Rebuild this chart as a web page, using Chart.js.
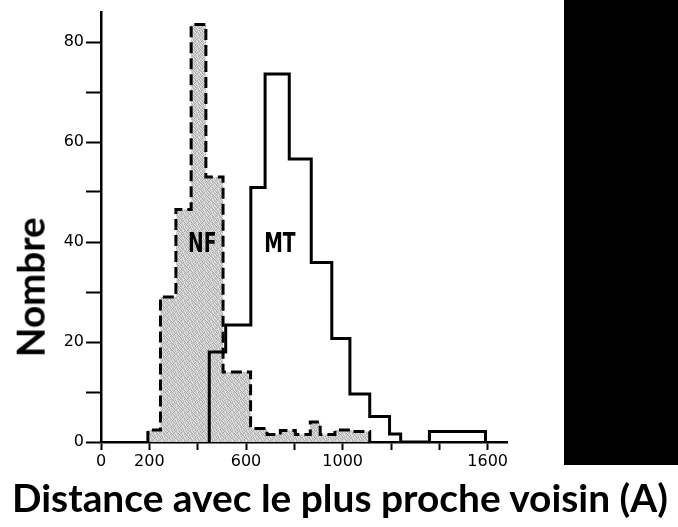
<!DOCTYPE html>
<html><head><meta charset="utf-8">
<script src="https://cdn.jsdelivr.net/npm/chart.js@4"></script>
<style>
html,body{margin:0;padding:0;background:#fff;}
#wrap{position:relative;width:678px;height:527px;overflow:hidden;background:#fff;}
#c{position:absolute;left:0;top:0;}
#blk{position:absolute;left:564px;top:0;width:114px;height:465px;background:#000;}
.lbl{position:absolute;font-family:Lato,'Open Sans',sans-serif;font-weight:700;white-space:nowrap;line-height:1;color:#000;}
</style></head><body>
<div id="wrap">
<canvas id="c" width="678" height="527"></canvas>
<div id="blk"></div>
<div id="xl" class="lbl">Distance avec le plus proche voisin (A)</div>
<div id="yl" class="lbl">Nombre</div>
</div>
<script>
// ---- data ----
const nfEdges  = [194, 246, 310, 373, 434, 505, 619, 687, 742, 804, 866, 907, 968, 1037, 1112];
const nfCounts = [2.4, 29, 46.5, 83.5, 53, 14, 2.7, 1.5, 2.3, 1.5, 4, 1.5, 2.4, 2.1];
const mtEdges  = [448, 516, 620, 679, 779, 870, 955, 1030, 1112, 1194, 1240, 1359, 1591];
const mtCounts = [18, 23.4, 50.9, 73.6, 56.6, 35.9, 20.7, 9.6, 5.1, 1.6, 0, 2.1];
const xTickValues = [0, 200, 400, 600, 800, 1000, 1200, 1400, 1600];
const xTickLabels = [0, 200, 600, 1000, 1600];
const yTickValues = [0, 10, 20, 30, 40, 50, 60, 70, 80];
const yTickLabels = [0, 20, 40, 60, 80];
const seriesNames = ['NF', 'MT'];
const nameAnchors = [[419, 39.4], [740, 39.4]];

function histPoints(edges, counts) {
  const pts = [{x: edges[0], y: 0}];
  for (let i = 0; i < counts.length; i++) {
    pts.push({x: edges[i], y: counts[i]});
    pts.push({x: edges[i + 1], y: counts[i]});
  }
  pts.push({x: edges[edges.length - 1], y: 0});
  return pts;
}

const canvas = document.getElementById('c');
const ctx = canvas.getContext('2d');
const pat = (function () {
  const c = document.createElement('canvas'); c.width = 7; c.height = 7;
  const g = c.getContext('2d');
  const m = ['0210120', '1020012', '2001201', '0120021', '1002102', '2012001', '0201210'];
  const col = {'0': '#cacaca', '1': '#acacac', '2': '#e4e4e4'};
  for (let r = 0; r < 7; r++) for (let k = 0; k < 7; k++) { g.fillStyle = col[m[r][k]]; g.fillRect(k, r, 1, 1); }
  return ctx.createPattern(c, 'repeat');
})();

const namePlugin = {
  id: 'names',
  afterDatasetsDraw(chart) {
    const {ctx, scales: {x, y}} = chart;
    ctx.save();
    ctx.fillStyle = '#000';
    ctx.font = 'bold 26px "DejaVu Sans"';
    ctx.textAlign = 'center'; ctx.textBaseline = 'middle';
    seriesNames.forEach((n, i) => {
      const px = x.getPixelForValue(nameAnchors[i][0]);
      const py = y.getPixelForValue(nameAnchors[i][1]);
      ctx.save(); ctx.translate(px, py); ctx.scale(0.72, 1); ctx.fillText(n, 0, 0); ctx.restore();
    });
    ctx.restore();
  }
};

const tickFont = {family: 'DejaVu Sans', size: 16};
new Chart(canvas, {
  type: 'line',
  data: {
    datasets: [
      {label: seriesNames[1], data: histPoints(mtEdges, mtCounts), borderColor: '#000', borderWidth: 3, fill: false, pointRadius: 0, tension: 0, borderJoinStyle: 'miter'},
      {label: seriesNames[0], data: histPoints(nfEdges, nfCounts), borderColor: '#000', borderWidth: 3, borderDash: [11, 5], backgroundColor: pat, fill: 'origin', pointRadius: 0, tension: 0, borderJoinStyle: 'miter'}
    ]
  },
  options: {
    responsive: false, animation: false, devicePixelRatio: 1,
    layout: {padding: {left: 0, right: 171, top: 12, bottom: 0}},
    plugins: {legend: {display: false}, tooltip: {enabled: false}},
    scales: {
      x: {
        type: 'linear', min: 0, max: 1680,
        afterBuildTicks: s => { s.ticks = xTickValues.map(v => ({value: v})); },
        afterFit: s => { s.height = 85; },
        ticks: {callback: v => xTickLabels.includes(v) ? String(v) : '', autoSkip: false, maxRotation: 0, padding: 2, color: '#000', font: tickFont},
        grid: {display: true, drawOnChartArea: false, drawTicks: true, tickLength: 8, tickWidth: 2, tickColor: '#000'},
        border: {display: true, color: '#000', width: 2.5}
      },
      y: {
        type: 'linear', min: 0, max: 86,
        afterBuildTicks: s => { s.ticks = yTickValues.map(v => ({value: v})); },
        afterFit: s => { s.width = 101; },
        ticks: {callback: v => yTickLabels.includes(v) ? String(v) : '', autoSkip: false, padding: 2, color: '#000', font: tickFont},
        grid: {display: true, drawOnChartArea: false, drawTicks: true, tickLength: 15, tickWidth: 2, tickColor: '#000'},
        border: {display: true, color: '#000', width: 2.5}
      }
    }
  },
  plugins: [namePlugin]
});

function fit(el, targetW, base) {
  el.style.fontSize = base + 'px';
  const w = el.getBoundingClientRect().width;
  const fs = base * targetW / w;
  el.style.fontSize = fs + 'px';
  return fs;
}
const xl = document.getElementById('xl');
const fx = fit(xl, 656, 34);
xl.style.left = '12px';
xl.style.top = (512 - 0.887 * fx) + 'px';
const yl = document.getElementById('yl');
const fy = fit(yl, 140, 36);
const yw = yl.getBoundingClientRect().width;
yl.style.left = (30 - yw / 2) + 'px';
yl.style.top = (287 - fy / 2) + 'px';
yl.style.transform = 'rotate(-90deg)';
</script>
</body></html>
